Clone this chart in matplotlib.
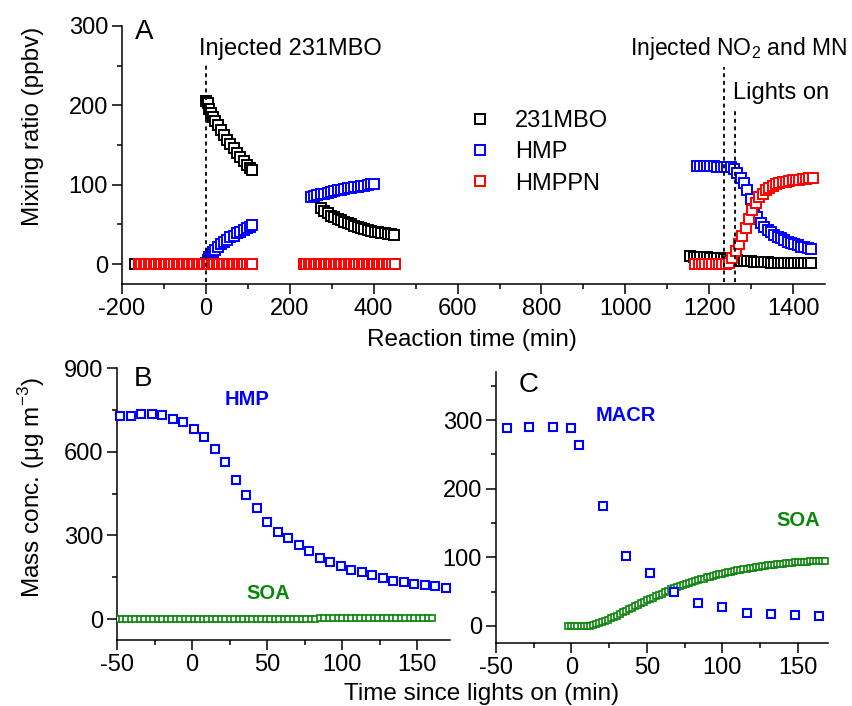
import numpy as np
import matplotlib
matplotlib.use("Agg")
import matplotlib.pyplot as plt
from matplotlib.ticker import MultipleLocator

plt.rcParams['font.family'] = ['Liberation Sans', 'DejaVu Sans']
plt.rcParams['mathtext.fontset'] = 'custom'
plt.rcParams['mathtext.rm'] = 'Liberation Sans'
plt.rcParams['axes.unicode_minus'] = False

# ---------------- Panel A data (reaction time, min ; ppbv) ----------------
# 231MBO
mbo_pre_t = [-170, -160, -150, -140, -130, -120, -110, -100, -90, -80, -70, -60, -50, -40, -30, -20, -10]
mbo_pre_v = [0, 0, 0, 0, 0, 0, 0, 0, 0, 0, 0, 0, 0, 0, 0, 0, 0]
mbo_1_t = [0, 4, 8, 12, 17, 22, 28, 35, 42, 50, 58, 66, 74, 82, 90, 98, 105, 110]
mbo_1_v = [205, 203, 196, 190, 185, 180, 175, 169, 163, 157, 151, 146, 140, 135, 130, 125, 121, 118]
mbo_2_t = [274, 282, 290, 298, 306, 314, 322, 330, 338, 346, 354, 362, 370, 378, 386, 394, 402, 410, 418, 426, 434, 442, 448]
mbo_2_v = [71, 67, 64, 61, 59, 57, 55, 53, 51.5, 50, 48.5, 47, 46, 44.5, 43, 42, 41, 40, 39.5, 39, 38, 37.5, 37]
mbo_3_t = [1155, 1163, 1171, 1179, 1187, 1195, 1203, 1211, 1219, 1227, 1235, 1243, 1251, 1259, 1267, 1275, 1283, 1291, 1299,
           1307, 1315, 1323, 1331, 1339, 1347, 1355, 1363, 1371, 1379, 1387, 1395, 1403, 1411, 1419, 1427, 1435, 1443]
mbo_3_v = [10, 9.5, 9, 9, 8.5, 8.5, 8, 8, 7.5, 7.5, 7, 7, 6.5, 6, 5, 4.5, 4, 3.5, 3.5,
           3, 3, 2.5, 2.5, 2.5, 2, 2, 2, 2, 1.5, 1.5, 1.5, 1.5, 1.5, 1, 1, 1, 1]

# HMP
hmp_1_t = [0, 4, 8, 12, 17, 22, 28, 35, 42, 50, 58, 66, 74, 82, 90, 98, 105, 110]
hmp_1_v = [2, 5, 9, 12, 15, 18, 21, 25, 28, 31, 34, 36, 39, 41, 43, 45, 47, 49]
hmp_2_t = [250, 258, 266, 274, 282, 290, 298, 306, 314, 322, 330, 338, 346, 354, 362, 370, 378, 386, 394, 400]
hmp_2_v = [84, 86, 87, 88, 89, 90, 91, 92, 93, 94, 95, 95.5, 96, 97, 97.5, 98, 99, 100, 100.5, 101]
hmp_3_t = [1171, 1179, 1187, 1195, 1203, 1211, 1219, 1227, 1235, 1243, 1251, 1259, 1267, 1275, 1283, 1291, 1299,
           1307, 1315, 1323, 1331, 1339, 1347, 1355, 1363, 1371, 1379, 1387, 1395, 1403, 1411, 1419, 1427, 1435, 1443]
hmp_3_v = [124, 124, 124, 124, 123.5, 123.5, 123, 123, 123, 122.5, 122, 120, 115, 108, 102, 93, 82,
           70, 59, 52, 47, 43, 40, 37, 34.5, 32.5, 30.5, 28.5, 26.5, 25, 23.5, 22, 21, 20, 19]

# HMPPN
hmppn_1_t = [-160, -154, -148, -142, -136, -130, -124, -118, -112, -106, -100, -94, -88, -82, -76, -70, -64, -58,
             -52, -46, -40, -34, -28, -22, -16, -10, -4, 2, 8, 14, 20, 26, 32, 38, 44, 50, 56, 62, 68, 74, 80, 86,
             92, 98, 104, 110]
hmppn_1_v = [0] * 46
hmppn_2_t = [233, 239, 245, 251, 257, 263, 269, 275, 281, 287, 293, 299, 305, 311, 317, 323, 329, 335, 341, 347,
             353, 359, 365, 371, 377, 383, 389, 395, 401, 407, 413, 419, 425, 431, 437, 443, 452]
hmppn_2_v = [0] * 37
hmppn_3_t = [1167, 1175, 1183, 1191, 1199, 1207, 1215, 1223, 1231, 1239, 1247, 1255, 1263, 1271, 1279, 1287, 1295,
             1303, 1311, 1319, 1327, 1335, 1343, 1351, 1359, 1367, 1375, 1383, 1391, 1399, 1407, 1415, 1423, 1431,
             1439, 1447]
hmppn_3_v = [0, 0, 0, 0, 0, 0, 0, 0, 0, 0, 2, 8, 16, 26, 36, 46, 57,
             68, 77, 84, 89, 93, 96, 98.5, 100.5, 102, 103, 104, 105, 105.5, 106, 106.5, 107, 107.5,
             108, 108]

t_inject_mbo = 0
t_inject_no2 = 1235
t_lights_on = 1262

# ---------------- Panel B data (time since lights on, min ; ug m-3) ----------------
b_hmp_t = [-48, -41, -34, -27, -20, -13, -6, 1, 8, 15, 22, 29, 36, 43, 50, 57, 64, 71, 78, 85, 92, 99,
           106, 113, 120, 127, 134, 141, 148, 155, 162, 169]
b_hmp_v = [728, 728, 735, 734, 733, 717, 705, 683, 653, 608, 563, 500, 445, 398, 348, 313, 289, 264, 243,
           219, 205, 189, 177, 167, 157, 146, 137, 132, 126, 122, 118, 111]
b_soa_t = [-50, -47, -44, -41, -38, -35, -32, -29, -26, -23, -20, -17, -14, -11, -8, -5, -2, 1, 4, 7, 10, 13,
           16, 19, 22, 25, 28, 31, 34, 37, 40, 43, 46, 49, 52, 55, 58, 61, 64, 67, 70, 73, 76, 79, 82, 85, 88,
           91, 94, 97, 100, 103, 106, 109, 112, 115, 118, 121, 124, 127, 130, 133, 136, 139, 142, 145, 148, 151,
           154, 157, 160]
b_soa_v = [0, 0, 0, 0, 0, 0, 0, 0, 0, 0, 0, 0.5, 0.5, 0.5, 0.5, 0.5, 0.5, 0.5, 0.5, 1, 1, 1,
           1, 1, 1, 1, 1, 1, 1, 1.5, 1.5, 1.5, 1.5, 1.5, 1.5, 1.5, 1.5, 2, 2, 2, 2, 2, 2, 2, 2, 2.5, 2.5,
           2.5, 2.5, 2.5, 3, 3, 3, 3, 3, 3, 3, 3.5, 3.5, 3.5, 3.5, 3.5, 3.5, 3.5, 4, 4, 4, 4,
           4, 4, 4]

# ---------------- Panel C data ----------------
c_macr_t = [-43, -28, -12, 0, 5, 21, 36, 52, 68, 84, 100, 116, 132, 148, 164]
c_macr_v = [289, 290, 290, 288, 263, 175, 102, 77, 50, 34, 28, 18, 17, 16, 14.5]
c_soa_t = [-2, 0, 2, 4, 6, 8, 10, 12, 14, 16, 18, 20, 22, 24, 26, 28, 30, 32, 34, 36, 38, 40, 42, 44, 46, 48,
           50, 52, 54, 56, 58, 60, 62, 64, 66, 68, 70, 72, 74, 76, 78, 80, 82, 84, 86, 88, 90, 92, 94, 96, 98,
           100, 102, 104, 106, 108, 110, 112, 114, 116, 118, 120, 122, 124, 126, 128, 130, 132, 134, 136, 138,
           140, 142, 144, 146, 148, 150, 152, 154, 156, 158, 160, 162, 164, 166, 168]
c_soa_v = [0, 0, 0, 0, 0, 0, 0, 0.5, 1, 2, 3.5, 5, 7, 9, 11, 13, 15, 17.5, 20, 22, 24, 26.5, 28.5, 31, 33, 35,
           37, 39, 41, 43, 45, 47, 49, 51, 53, 55, 56.5, 58, 59.5, 61, 62.5, 64, 65.5, 66.5, 68, 69, 70.5, 71.5,
           73, 74, 75, 76, 77, 78, 79, 80, 81, 82, 82.5, 83.5, 84, 85, 85.5, 86, 87, 87.5, 88, 88.5, 89, 89.5,
           90, 90.5, 91, 91.5, 92, 92.5, 93, 93, 93.5, 93.5, 94, 94, 94.5, 94.5, 95, 95]

# ---------------- Styling ----------------
BLACK = '#000000'
BLUE = '#0000ff'
RED = '#ff0000'
GREEN = '#0a860a'
FS = 17
W, H = 852, 706


def ax_rect(l, t, r, b):
    return [l / W, 1 - b / H, (r - l) / W, (b - t) / H]


def style(ax):
    for s in ('top', 'right'):
        ax.spines[s].set_visible(False)
    for s in ('left', 'bottom'):
        ax.spines[s].set_linewidth(1.1)
    ax.tick_params(which='major', direction='out', length=7, width=1.1, labelsize=FS, pad=3)
    ax.tick_params(which='minor', direction='out', length=3.6, width=1.1)


fig = plt.figure(figsize=(W / 100, H / 100), dpi=100)

# ---------------- Panel A ----------------
axA = fig.add_axes(ax_rect(122, 26, 825, 284))
style(axA)
mkA = dict(marker='s', ms=6.5, mew=1.4, mfc='white', ls='none')
axA.plot(mbo_pre_t, mbo_pre_v, mec=BLACK, zorder=3, **mkA)
axA.plot(mbo_1_t, mbo_1_v, mec=BLACK, zorder=3, **mkA)
axA.plot(mbo_2_t, mbo_2_v, mec=BLACK, zorder=3, **mkA)
axA.plot(mbo_3_t, mbo_3_v, mec=BLACK, zorder=3, **mkA, label='231MBO')
axA.plot(hmp_1_t, hmp_1_v, mec=BLUE, zorder=4, **mkA)
axA.plot(hmp_2_t, hmp_2_v, mec=BLUE, zorder=4, **mkA)
axA.plot(hmp_3_t, hmp_3_v, mec=BLUE, zorder=4, **mkA, label='HMP')
axA.plot(hmppn_1_t, hmppn_1_v, mec=RED, zorder=5, **mkA)
axA.plot(hmppn_2_t, hmppn_2_v, mec=RED, zorder=5, **mkA)
axA.plot(hmppn_3_t, hmppn_3_v, mec=RED, zorder=5, **mkA, label='HMPPN')

dash = dict(color='black', lw=1.3, ls=(0, (2.2, 2.0)), zorder=6)
axA.plot([t_inject_mbo, t_inject_mbo], [-22, 253], **dash)
axA.plot([t_inject_no2, t_inject_no2], [-22, 248], **dash)
axA.plot([t_lights_on, t_lights_on], [-22, 197], **dash)

axA.set_xlim(-200, 1476)
axA.set_ylim(-25, 300)
axA.xaxis.set_major_locator(MultipleLocator(200))
axA.xaxis.set_minor_locator(MultipleLocator(100))
axA.yaxis.set_major_locator(MultipleLocator(100))
axA.yaxis.set_minor_locator(MultipleLocator(50))

axA.text(-17, 263, 'Injected 231MBO', fontsize=FS, ha='left', va='baseline')
axA.text(1528, 263, 'Injected NO$_2$ and MN', fontsize=16.5, ha='right', va='baseline', clip_on=False)
axA.text(1257, 208, 'Lights on', fontsize=FS, ha='left', va='baseline')
axA.text(0.031, 0.975, 'A', transform=axA.transAxes, fontsize=20, ha='center', va='center')

leg = axA.legend(loc='upper left', bbox_to_anchor=(0.492, 0.675), frameon=False, fontsize=FS,
                 numpoints=1, handlelength=1.0, handletextpad=1.0, labelspacing=0.4, borderpad=0,
                 borderaxespad=0)

fig.text(472 / W, 1 - 340 / H, 'Reaction time (min)', fontsize=17.5, ha='center', va='center')
fig.text(33 / W, 1 - 126 / H, 'Mixing ratio (ppbv)', fontsize=17.5, ha='center', va='center', rotation=90)

# ---------------- Panel B ----------------
axB = fig.add_axes(ax_rect(117, 368, 450, 640))
style(axB)
axB.plot(b_soa_t, b_soa_v, marker='s', ms=5, mew=1.2, mfc='white', mec=GREEN, ls='none', zorder=3)
axB.plot(b_hmp_t, b_hmp_v, marker='s', ms=5.6, mew=1.5, mfc='white', mec=BLUE, ls='none', zorder=4,
         clip_on=False)
axB.set_xlim(-50, 172)
axB.set_ylim(-75, 900)
axB.xaxis.set_major_locator(MultipleLocator(50))
axB.xaxis.set_minor_locator(MultipleLocator(25))
axB.yaxis.set_major_locator(MultipleLocator(300))
axB.yaxis.set_minor_locator(MultipleLocator(150))
axB.text(37, 788, 'HMP', color=BLUE, fontsize=14.5, fontweight='bold', ha='center', va='center')
axB.text(51, 90, 'SOA', color=GREEN, fontsize=14.5, fontweight='bold', ha='center', va='center')
axB.text(0.077, 0.96, 'B', transform=axB.transAxes, fontsize=20, ha='center', va='center')

fig.text(32 / W, 1 - 488 / H, 'Mass conc. ($\\mathrm{\\mu}$g m$^{-3}$)', fontsize=17.5, ha='center',
         va='center', rotation=90)

# ---------------- Panel C ----------------
axC = fig.add_axes(ax_rect(496, 372, 828, 643))
style(axC)
axC.plot(c_soa_t, c_soa_v, marker='s', ms=5, mew=1.2, mfc='white', mec=GREEN, ls='none', zorder=3)
axC.plot(c_macr_t, c_macr_v, marker='s', ms=5.8, mew=1.5, mfc='white', mec=BLUE, ls='none', zorder=4)
axC.set_xlim(-50, 170)
axC.set_ylim(-25, 370)
axC.xaxis.set_major_locator(MultipleLocator(50))
axC.xaxis.set_minor_locator(MultipleLocator(25))
axC.yaxis.set_major_locator(MultipleLocator(100))
axC.yaxis.set_minor_locator(MultipleLocator(50))
axC.text(36, 306, 'MACR', color=BLUE, fontsize=14.5, fontweight='bold', ha='center', va='center')
axC.text(150, 153, 'SOA', color=GREEN, fontsize=14.5, fontweight='bold', ha='center', va='center')
axC.text(0.098, 0.952, 'C', transform=axC.transAxes, fontsize=20, ha='center', va='center')

fig.text(482 / W, 1 - 694 / H, 'Time since lights on (min)', fontsize=17.5, ha='center', va='center')

fig.savefig('out.png', dpi=100)
